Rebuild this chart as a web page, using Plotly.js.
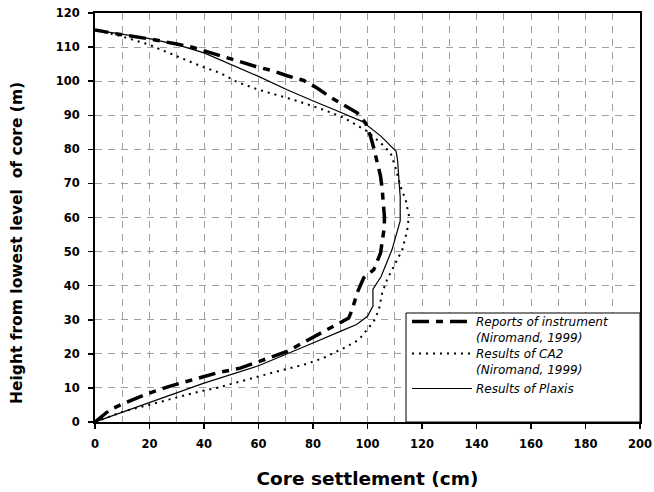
<!DOCTYPE html>
<html>
<head>
<meta charset="utf-8">
<script src="https://cdn.plot.ly/plotly-3.0.1.min.js"></script>
<style>html,body{margin:0;padding:0;background:#fff;}#chart{width:654px;height:492px;}</style>
</head>
<body>
<div id="chart"></div>
<script>
// Reports of instrument (Niromand, 1999)
const instrX = [0, 5.5, 10.4, 19, 27, 36, 44.7, 53.3, 62, 70.5, 78, 86, 93.1, 94.4, 96.2, 98.6, 102.3, 104.8, 106.2, 106.2, 105.8, 105.4, 104.8, 103.6, 102.3, 101.1, 99.3, 96.2, 91.3, 86.4, 81.5, 76.6, 70.5, 65, 59, 53, 47, 41, 36, 30, 20, 10, 0];
const instrY = [0, 3.6, 5.4, 8.2, 10.4, 12.4, 14.4, 15.8, 18.3, 20.7, 24, 27.5, 30.5, 33, 37.9, 42.3, 44.7, 49.6, 57.4, 60.3, 64.7, 68.2, 72.1, 76.5, 80.4, 83.8, 87.7, 90.7, 93.1, 95.3, 98, 100.2, 101.6, 103.1, 104.3, 105.8, 107.3, 108.8, 109.9, 110.9, 112.4, 113.6, 115];

// Results of CA2 (Niromand, 1999)
const ca2X = [0, 10.4, 21, 31.3, 38.6, 44.7, 52.1, 60.7, 68, 76.6, 83.9, 91.3, 96.8, 99.3, 102.3, 104.2, 105.4, 107.2, 109.7, 112.8, 114.6, 115.2, 114, 112.1, 110.3, 108.5, 104.8, 99.9, 91.3, 83.9, 74.2, 67, 60, 52, 46, 39.5, 28.8, 19.5, 9.2, 0];
const ca2Y = [0, 3.1, 5.3, 7.5, 9, 10, 11.6, 13.6, 15.1, 16.8, 18.8, 21.7, 24.1, 26.6, 29.5, 33, 37.9, 41.8, 45.7, 50.6, 56.4, 60.5, 65.2, 69.1, 74.5, 78.9, 81.9, 85.3, 89.3, 91.6, 94.2, 95.8, 97.5, 99.8, 102.4, 104.2, 107.8, 110.8, 113.3, 115];

// Results of Plaxis
const plaxisX = [0, 20, 40, 60, 67, 80, 90, 96, 100, 102, 102, 105, 109, 112, 112, 111, 110.5, 105, 98, 93.8, 87, 80.3, 70.5, 60, 50, 40, 30, 20, 9.2, 0];
const plaxisY = [0, 5.6, 11.4, 16.5, 18.8, 23.2, 26.6, 28.6, 31, 34, 39, 42.7, 50.6, 59, 66, 77, 79.4, 83.8, 88.2, 89.7, 91.9, 94.1, 97.5, 101.4, 104.8, 108.3, 110.7, 112.5, 113.9, 115];

const seriesNames = ["Reports of instrument (Niromand, 1999)", "Results of CA2 (Niromand, 1999)", "Results of Plaxis"];
const legendLines = [["Reports of instrument", "(Niromand, 1999)"], ["Results of CA2", "(Niromand, 1999)"], ["Results of Plaxis"]];
const xTickVals = [0, 20, 40, 60, 80, 100, 120, 140, 160, 180, 200];
const yTickVals = [0, 10, 20, 30, 40, 50, 60, 70, 80, 90, 100, 110, 120];
const xTitle = "Core settlement (cm)";
const yTitle = "Height from lowest level  of core (m)";

const FONT = "'DejaVu Sans', Arial, sans-serif";
const styles = [
  {color: "#000", width: 3.5, dash: "17px,7px,7px,7px"},
  {color: "#000", width: 2, dash: "2px,5px"},
  {color: "#000", width: 1.2, dash: "solid"}
];

const traces = [
  {x: instrX, y: instrY, name: seriesNames[0], mode: "lines", line: styles[0], showlegend: false},
  {x: ca2X, y: ca2Y, name: seriesNames[1], mode: "lines", line: styles[1], showlegend: false},
  {x: plaxisX, y: plaxisY, name: seriesNames[2], mode: "lines", line: styles[2], showlegend: false}
];

// plot-area geometry (pixels) and paper helpers
const L = 95, R = 640, T = 13, B = 422;
const px = v => (v - L) / (R - L);
const py = v => (B - v) / (B - T);

const shapes = [
  {type: "rect", xref: "paper", yref: "paper", x0: px(406), x1: 1, y0: 0, y1: py(313),
   fillcolor: "#fff", line: {color: "#000", width: 1}, layer: "above"}
];
const rowCenters = [[321.5, 337.5], [353.5, 369.5], [388.5]];
const annotations = [];
rowCenters.forEach((rows, i) => {
  shapes.push({type: "line", xref: "paper", yref: "paper", x0: px(412), x1: px(472), y0: py(rows[0]), y1: py(rows[0]),
    line: {color: styles[i].color, width: styles[i].width, dash: styles[i].dash}, layer: "above"});
  rows.forEach((yy, k) => {
    annotations.push({xref: "paper", yref: "paper", x: px(475), y: py(yy), xanchor: "left", yanchor: "middle",
      text: legendLines[i][k], showarrow: false, align: "left", borderpad: 0,
      font: {family: FONT, size: 12, style: "italic", color: "#000"}});
  });
});
// y-axis title
annotations.push({xref: "paper", yref: "paper", x: px(17), y: py(243), xanchor: "center", yanchor: "middle",
  text: yTitle, textangle: -90, showarrow: false,
  font: {family: FONT, size: 15.5, weight: "bold", color: "#000"}});

const gridStyle = {gridcolor: "#a0a0a0", griddash: "7px,6px", gridwidth: 1};

const layout = {
  width: 654, height: 492,
  margin: {l: L, r: 654 - R, t: T, b: 492 - B},
  paper_bgcolor: "#fff", plot_bgcolor: "#fff",
  showlegend: false,
  font: {family: FONT, color: "#000"},
  xaxis: Object.assign({
    range: [0, 200], tickvals: xTickVals, ticks: "outside", ticklen: 5, tickwidth: 1.5, tickcolor: "#000",
    showline: true, linecolor: "#000", linewidth: 2, mirror: true, zeroline: false,
    showgrid: true, ticklabelstandoff: 5,
    tickfont: {family: FONT, size: 11.5, weight: "bold", color: "#000"},
    minor: {dtick: 10, tick0: 0, showgrid: true, gridcolor: "#a0a0a0", griddash: "7px,6px", gridwidth: 1, ticks: ""},
    title: {text: xTitle, standoff: 22, font: {family: FONT, size: 18.5, weight: "bold", color: "#000"}}
  }, gridStyle),
  yaxis: Object.assign({
    range: [0, 120], tickvals: yTickVals, ticks: "outside", ticklen: 5, tickwidth: 1.5, tickcolor: "#000",
    showline: true, linecolor: "#000", linewidth: 2, mirror: true, zeroline: false,
    showgrid: true, ticklabelstandoff: 6,
    tickfont: {family: FONT, size: 11.5, weight: "bold", color: "#000"}
  }, gridStyle),
  shapes: shapes,
  annotations: annotations
};

Plotly.newPlot("chart", traces, layout, {displayModeBar: false, staticPlot: true});
</script>
</body>
</html>
